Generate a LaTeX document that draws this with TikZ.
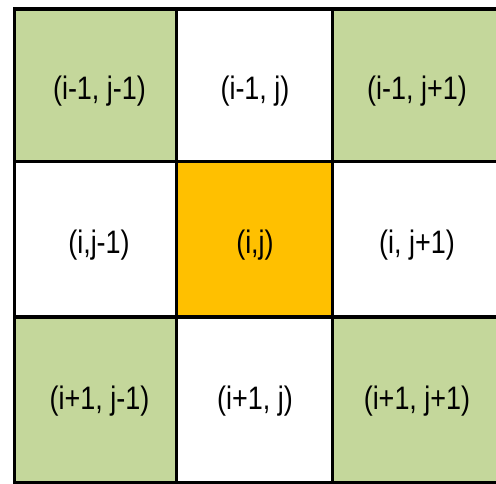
\documentclass[tikz,border=0pt]{standalone}
\usepackage{fontspec}
\newfontfamily\cellfont[FakeStretch=0.83]{Liberation Sans}
\definecolor{olivecell}{HTML}{C4D79B}
\definecolor{centercell}{HTML}{FFC000}

\begin{document}
\begin{tikzpicture}[
  x=1pt, y=-1pt,
  cell/.style={font=\cellfont\fontsize{32.5}{38}\selectfont, inner sep=0pt},
  gridline/.style={line width=3.5pt, draw=black, line cap=rect}
]
\useasboundingbox (0,0) rectangle (496,484);
\clip (0,0) rectangle (496,484);

% cell fills
\fill[olivecell] (14.5,9) rectangle (176.5,161.5);
\fill[olivecell] (332.5,9) rectangle (510,161.5);
\fill[olivecell] (14.5,317) rectangle (176.5,482.5);
\fill[olivecell] (332.5,317) rectangle (510,482.5);
\fill[centercell] (176.5,161.5) rectangle (332.5,317);

% grid
\draw[gridline] (14.5,9) -- (510,9);
\draw[gridline] (14.5,161.5) -- (510,161.5);
\draw[gridline] (14.5,317) -- (510,317);
\draw[gridline] (14.5,482.5) -- (510,482.5);
\draw[gridline] (14.5,9) -- (14.5,482.5);
\draw[gridline] (176.5,9) -- (176.5,482.5);
\draw[gridline] (332.5,9) -- (332.5,482.5);

% labels
\node[cell] (nw) at (99.5,91.5) {(i-1, j-1)};
\node[cell] (n) at (255,91.5) {(i-1, j)};
\node[cell] (ne) at (417,91.5) {(i-1, j+1)};
\node[cell] (w) at (99,245) {(i,j-1)};
\node[cell] (c) at (255,245) {(i,j)};
\node[cell] (e) at (417,245) {(i, j+1)};
\node[cell] (sw) at (99.5,401.5) {(i+1, j-1)};
\node[cell] (s) at (255,401.5) {(i+1, j)};
\node[cell] (se) at (417,401.5) {(i+1, j+1)};
\end{tikzpicture}
\end{document}
